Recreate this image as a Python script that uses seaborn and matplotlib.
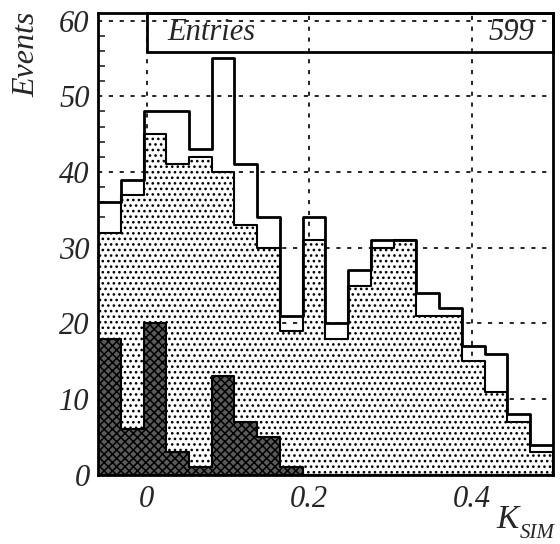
import numpy as np
import matplotlib
matplotlib.use("Agg")
import matplotlib.pyplot as plt
from matplotlib.patches import Rectangle
from matplotlib.ticker import MultipleLocator
import seaborn as sns

# ---- data (bin edges and counts) ----
bin_edges = [-0.06, -0.032, -0.004, 0.024, 0.052, 0.08, 0.108, 0.136, 0.164, 0.192,
             0.22, 0.248, 0.276, 0.304, 0.332, 0.36, 0.388, 0.416, 0.444, 0.472, 0.5]
total_counts = [36, 39, 48, 48, 43, 55, 41, 34, 21, 34,
                20, 27, 31, 31, 24, 22, 17, 16, 8, 4]
middle_counts = [32, 37, 45, 41, 42, 40, 33, 30, 19, 31,
                 18, 25, 30, 31, 21, 21, 15, 11, 7, 3]
dark_counts = [18, 6, 20, 3, 1, 13, 7, 5, 1, 0,
               0, 0, 0, 0, 0, 0, 0, 0, 0, 0]
x_ticks = [0, 0.2, 0.4]
x_tick_labels = ["0", "0.2", "0.4"]
y_ticks = [0, 10, 20, 30, 40, 50, 60]
entries_label = "Entries"
entries_value = "599"

sns.set_style("white")
plt.rcParams["font.family"] = ["Liberation Serif", "DejaVu Serif"]
plt.rcParams["hatch.linewidth"] = 1.1

centers = [(a + b) / 2 for a, b in zip(bin_edges[:-1], bin_edges[1:])]

fig = plt.figure(figsize=(5.6, 5.44), dpi=100)
ax = fig.add_axes([0.175, 0.127, 0.8125, 0.849])

ax.grid(True, which="major", color="black", linestyle=(0, (2.5, 4)), linewidth=1.2)
ax.set_axisbelow(True)

sns.histplot(x=centers, weights=middle_counts, bins=bin_edges, element="step",
             fill=True, facecolor="white", edgecolor="black", hatch="...",
             alpha=1, linewidth=1.5, ax=ax, zorder=2)
sns.histplot(x=centers, weights=dark_counts, bins=bin_edges, element="step",
             fill=True, facecolor="#5a5a5a", edgecolor="black", hatch="xxxx",
             alpha=1, linewidth=1.5, ax=ax, zorder=3)
sns.histplot(x=centers, weights=total_counts, bins=bin_edges, element="step",
             fill=False, color="black", linewidth=2.0, ax=ax, zorder=4)

ax.set_xlim(-0.06, 0.5)
ax.set_ylim(0, 61)
ax.set_xticks(x_ticks)
ax.set_xticklabels(x_tick_labels)
ax.set_yticks(y_ticks)
ax.yaxis.set_minor_locator(MultipleLocator(2))
ax.tick_params(axis="both", which="major", direction="in", length=9, width=1.3,
               labelsize=22)
ax.tick_params(axis="y", which="major", pad=6)
ax.tick_params(axis="x", which="major", pad=7)
ax.tick_params(axis="y", which="minor", direction="in", length=5, width=1.2, left=True)
ax.tick_params(axis="x", which="major", bottom=True)
for lab in ax.get_xticklabels() + ax.get_yticklabels():
    lab.set_fontstyle("italic")
ax.set_xlabel("")
ax.set_ylabel("")

for s in ax.spines.values():
    s.set_visible(True)
    s.set_color("black")
    s.set_linewidth(2.0)
    s.set_zorder(6)

# statistics box
ax.add_patch(Rectangle((0.108, 0.916), 0.892, 0.084, transform=ax.transAxes,
                       facecolor="none", edgecolor="black", linewidth=2.0,
                       zorder=7, clip_on=False))
ax.text(0.152, 0.958, entries_label, transform=ax.transAxes, fontsize=22,
        fontstyle="italic", ha="left", va="center", zorder=8)
ax.text(0.958, 0.958, entries_value, transform=ax.transAxes, fontsize=22,
        fontstyle="italic", ha="right", va="center", zorder=8)

# axis titles
fig.text(0.048, 0.978, "Events", rotation=90, fontsize=23, fontstyle="italic",
         ha="center", va="top")
fig.text(0.887, 0.029, "K", fontsize=24, fontstyle="italic", ha="left", va="baseline")
fig.text(0.928, 0.011, "SIM", fontsize=15, fontstyle="italic", ha="left", va="baseline")

fig.savefig("out.png", dpi=100)
